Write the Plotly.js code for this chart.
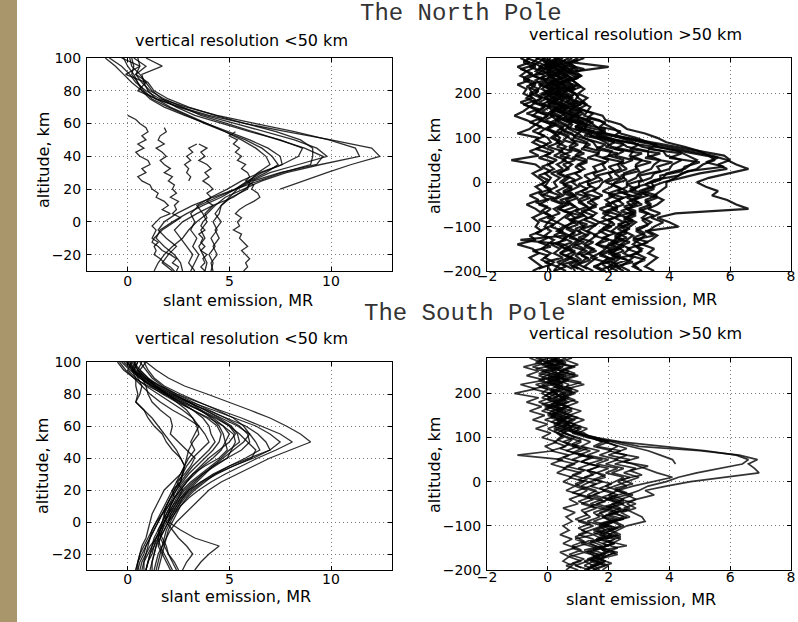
<!DOCTYPE html>
<html>
<head>
<meta charset="utf-8">
<script src="https://cdn.plot.ly/plotly-3.0.1.min.js"></script>
<style>html,body{margin:0;padding:0;background:#fff;}#chart{width:798px;height:622px;}</style>
</head>
<body>
<div id="chart"></div>
<script>
// ---------- altitude grids (km) ----------
const altL = [100,95,90,85,80,75,70,65,60,55,50,45,40,35,30,25,20,15,10,5,0,-5,-10,-15,-20,-25,-30];
const altZ = [65,62.5,60,57.5,55,52.5,50,47.5,45,42.5,40,37.5,35,32.5,30,27.5,25,22.5,20,17.5,15,12.5,10,7.5,5,2.5,0,-2.5,-5,-7.5,-10,-12.5,-15,-17.5,-20,-22.5,-25,-27.5,-30];
const altR = [280,270,260,250,240,230,220,210,200,190,180,170,160,150,140,130,120,110,100,90,80,70,60,50,40,30,20,10,0,-10,-20,-30,-40,-50,-60,-70,-80,-90,-100,-110,-120,-130,-140,-150,-160,-170,-180,-190,-200];
const altR2 = [275,265,255,245,235,225,215,205,195,185,175,165,155,145,135,125,115,105,95,85,75,65,55,45,35,25,15,5,-5,-15,-25,-35,-45,-55,-65,-75,-85,-95,-105,-115,-125,-135,-145,-155,-165,-175,-185,-195];

// ---------- tick labels ----------
const ticksLowX = [0,5,10];
const ticksLowY = [-20,0,20,40,60,80,100];
const ticksHiX = [-2,0,2,4,6,8];
const ticksHiY = [-200,-100,0,100,200];

// ---------- North Pole, vertical resolution < 50 km (slant emission, MR) ----------
const nLo1 = [-1.1,-0.6,-0.2,0.2,0.7,1.4,2.6,4.0,5.8,7.8,10.0,12.0,12.4,11.0,9.8,8.7,7.5,null,null,null,null,null,null,null,null,null,null];
const nLo2 = [-0.9,-0.3,0.1,0.4,0.9,1.6,2.9,4.4,6.3,8.2,9.9,11.2,11.4,9.5,7.8,6.6,5.7,4.8,4.3,3.9,3.4,3.0,2.7,2.2,1.8,1.5,1.3];
const nLo3 = [-0.3,0.6,-0.1,0.9,0.5,1.4,2.5,3.8,5.3,6.8,8.2,9.3,9.8,8.4,7.0,6.1,5.4,5.0,4.6,4.5,4.2,4.4,4.1,4.3,4.0,4.2,4.1];
const nLo4 = [0.5,0.6,0.4,0.7,1.1,1.8,2.7,3.6,4.9,6.2,7.5,8.7,9.6,9.3,7.5,6.2,5.8,5.2,4.2,3.4,2.7,2.3,2.6,2.9,3.2,3.0,3.3];
const nLo5 = [0.3,0.9,0.4,1.0,1.3,2.0,3.0,4.3,5.8,7.3,8.5,9.1,9.1,9.0,7.6,6.4,5.3,4.4,3.5,3.1,3.3,3.1,3.4,3.2,3.5,3.3,3.1];
const nLo6 = [0.2,0.3,0.2,0.5,0.7,1.1,1.8,2.8,3.9,5.0,6.0,6.9,7.5,7.6,6.6,5.9,5.3,4.6,3.7,2.9,2.2,1.6,1.4,1.8,2.3,2.6,2.7];
const nLo7 = [-0.2,0.0,0.3,0.5,0.8,1.2,2.0,2.9,3.8,4.8,5.8,6.6,7.1,7.4,6.8,6.0,5.3,4.2,3.2,2.4,1.8,1.5,1.9,2.4,2.0,1.7,2.2];
const nLo8 = [0.9,1.7,0.7,0.8,1.0,1.4,2.1,3.0,3.9,4.8,5.6,6.3,6.8,7.0,6.4,6.0,5.9,5.1,4.6,4.3,4.6,4.3,4.5,4.2,4.4,4.1,4.2];
const nLo9 = [0.1,0.2,0.6,0.9,1.2,1.7,2.4,3.3,4.6,6.0,7.5,8.6,8.4,7.6,6.5,5.6,4.9,4.1,3.4,3.7,3.9,3.6,3.8,3.5,3.7,3.9,3.8];
// zig-zag low-emission profiles (2.5 km grid)
const nZig1 = [0.0,0.4,0.6,0.9,1.0,0.7,0.9,0.5,0.8,0.4,0.6,1.0,1.1,0.7,0.9,0.5,0.7,1.1,1.2,1.5,1.4,1.8,2.0,1.7,2.1,1.6,1.4,1.2,1.4,1.3,1.2,1.5,1.3,1.4,1.3,1.6,1.8,2.1,2.3];
const nZig2 = [null,null,null,1.8,1.9,1.6,1.5,1.8,1.4,1.7,1.9,1.6,1.8,2.1,1.8,2.2,2.0,2.3,2.2,2.4,2.1,2.5,2.3,2.4,2.2,2.6,2.3,2.0,1.7,1.5,1.3,1.2,1.5,1.7,2.1,2.4,2.2,2.5,2.4];
const nZig3 = [null,null,null,null,null,null,null,3.4,3.0,3.2,2.9,3.1,2.8,3.0,2.9,3.1,3.0,null,null,null,null,null,null,null,null,null,null,null,null,null,null,null,null,null,null,null,null,null,null];
const nZig4 = [null,null,null,null,null,null,null,3.5,3.9,3.6,3.8,3.5,3.9,4.1,3.8,4.0,3.7,4.0,4.2,3.9,4.1,3.9,4.2,4.0,3.8,3.9,3.7,3.6,3.8,3.5,3.7,3.6,3.8,3.6,3.9,3.7,3.8,3.6,3.8];
const nZig5 = [null,null,null,null,5.3,5.0,5.4,5.2,5.5,5.3,5.6,5.4,5.8,5.6,5.9,6.0,5.8,6.2,6.1,6.4,6.5,6.2,5.8,5.5,5.3,5.6,5.4,5.5,5.2,5.6,5.5,5.7,5.9,5.6,5.8,6.0,5.8,5.9,5.7];

// ---------- North Pole, vertical resolution > 50 km ----------
const nHi1 = [-0.9,-0.6,-1.0,-0.7,-0.9,-0.6,-1.0,-0.7,-0.8, -0.5,-0.9,-0.6,-0.8,-1.1,-0.7,-0.4,-0.6,-1.0,-0.3, -0.5,-0.2,-0.6,-0.3,-1.2,-0.4,-0.2,-0.5,-0.3,-0.1, -0.4,-0.2,-0.6,-0.3,-0.7,-0.4,-0.2,-0.5,-0.3,-0.4, -0.2,-0.6,-0.4,-1.0,-0.5,-0.3,-0.6,-0.4,-0.2,-0.5];
const nHi2 = [-0.6,-0.8,-0.4,-0.7,-0.5,-0.8,-0.4,-0.6,-0.5, -0.7,-0.4,-0.6,-0.3,-0.5,-0.2,-0.4,-0.1,-0.3,0.0, 0.1,-0.2,0.2,-0.1,0.3,0.0,0.2,-0.1,0.1,0.0, -0.1,0.1,-0.2,0.0,-0.3,0.1,-0.1,0.2,0.0,-0.1, 0.1,-0.1,0.2,0.0,-0.2,0.1,-0.1,0.2,0.0,0.1];
const nHi3 = [-0.3,-0.5,-0.2,-0.4,-0.1,-0.4,-0.2,-0.3,-0.4, -0.2,-0.4,-0.1,-0.3,0.0,-0.2,0.1,0.0,0.2,0.4, 0.3,0.6,0.4,0.7,0.5,0.8,0.6,0.4,0.7,0.5, 0.6,0.3,0.5,0.2,0.6,0.4,0.7,0.5,0.3,0.6, 0.4,0.7,0.5,0.3,0.6,0.4,0.8,0.5,0.3,0.6];
const nHi4 = [-0.1,-0.3,0.0,-0.2,0.1,-0.1,0.0,-0.2,0.1, -0.1,0.1,0.0,0.2,0.1,0.3,0.2,0.5,0.4,0.7, 0.9,0.7,1.1,0.9,1.3,1.0,1.2,0.9,1.1,0.8, 1.0,0.7,0.9,0.6,0.8,1.0,0.7,0.9,0.8,0.6, 0.9,0.7,1.0,0.8,0.6,0.9,0.7,1.0,0.8,0.9];
const nHi5 = [0.1,-0.1,0.2,0.0,0.1,0.3,0.0,0.2,-0.1, 0.2,0.0,0.3,0.1,0.4,0.3,0.6,0.4,0.8,0.9, 1.3,1.2,1.7,1.6,2.0,1.8,1.9,1.5,1.6,1.3, 1.4,1.1,1.3,1.0,1.2,1.4,1.1,1.3,1.0,1.2, 1.0,1.3,1.1,0.9,1.2,1.0,1.3,1.1,0.9,1.2];
const nHi6 = [0.3,0.0,0.2,0.4,0.1,0.3,0.1,0.4,0.2, 0.4,0.2,0.5,0.3,0.6,0.5,0.8,0.7,1.0,1.2, 1.5,1.6,2.1,2.0,2.5,2.3,2.4,2.0,2.1,1.8, 1.7,1.5,1.8,1.4,1.6,1.3,1.6,1.4,1.7,1.5, 1.3,1.6,1.4,1.2,1.5,1.3,1.6,1.4,1.2,1.5];
const nHi7 = [0.5,0.2,0.4,0.6,0.3,0.5,0.2,0.5,0.3, 0.6,0.4,0.7,0.5,0.8,0.7,1.1,0.9,1.3,1.6, 1.9,2.1,2.8,2.7,3.1,2.9,2.9,2.5,2.5,2.2, 2.1,1.8,2.2,1.9,2.1,1.7,2.0,1.8,2.1,1.9, 1.7,2.0,1.8,1.6,1.9,1.7,2.0,1.8,1.6,1.9];
const nHi8 = [0.7,0.4,0.6,0.8,0.5,0.7,0.4,0.7,0.5, 0.8,0.6,0.9,0.7,1.0,1.0,1.3,1.2,1.6,2.0, 2.4,2.6,3.3,3.3,3.7,3.5,3.4,3.0,2.9,2.6, 2.6,2.3,2.7,2.3,2.5,2.1,2.4,2.2,2.5,2.3, 2.1,2.4,2.2,2.0,2.3,2.1,2.4,2.2,2.0,2.3];
const nHi9 = [0.8,0.6,0.9,0.7,1.0,0.6,0.8,0.6,0.9, 0.7,1.0,0.8,1.1,0.9,1.3,1.5,1.7,1.9,2.4, 2.8,3.1,3.8,3.9,4.4,4.1,4.0,3.5,3.4,3.0, 3.0,2.7,3.1,2.7,2.9,2.6,2.8,2.6,2.9,2.7, 2.5,2.8,2.6,2.4,2.7,2.5,2.8,2.6,2.4,2.7];
const nHi10 = [1.0,0.7,0.9,0.6,1.1,0.8,1.0,0.7,0.9, 1.0,1.2,0.9,1.3,1.2,1.7,1.9,2.2,2.4,2.9, 3.3,3.6,4.3,4.6,4.9,4.7,4.5,3.9,3.8,3.4, 3.5,3.1,3.6,3.2,3.4,3.0,3.3,3.1,3.4,3.2, 2.9,3.2,3.0,2.8,3.1,2.9,3.2,3.0,2.8,3.1];
const nHi11 = [1.2,0.8,2.0,0.9,1.1,0.8,1.0,1.2,1.0, 1.3,1.1,1.4,1.3,1.8,1.9,2.4,2.6,3.2,3.6, 3.9,4.5,5.0,5.3,5.5,5.1,4.9,4.4,4.2,3.9, 3.9,3.7,3.5,3.8,3.6,3.3,3.7,3.4,3.8,3.5, 3.3,3.6,3.4,3.1,3.5,3.3,3.6,3.4,3.2,3.5];
const nHi12 = [0.4,0.1,0.6,0.3,0.7,0.2,0.5,0.9,0.3, 0.7,0.9,0.5,1.1,0.8,1.4,1.2,1.9,1.6,2.5, 3.1,3.9,4.6,5.4,5.9,6.2,6.6,6.0,5.3,4.9, 5.2,5.6,5.4,5.9,6.2,6.6,4.2,3.6,4.0,4.3, 3.2,3.5,2.8,3.1,2.6,3.0,2.4,2.8,2.2,2.5];
const nHi13 = [-0.2,0.3,-0.1,0.4,0.0,0.3,-0.2,0.2,0.0, 0.3,0.1,0.5,0.3,0.9,0.6,1.3,1.0,1.9,2.6, 3.4,4.3,5.0,5.8,6.0,5.6,5.9,5.0,4.4,3.8, 3.4,3.0,3.3,2.8,3.1,2.6,2.9,2.5,2.8,2.4, 2.6,2.2,2.5,2.1,2.4,2.0,2.3,1.9,2.2,2.0];
const nHi14 = [-0.4,0.1,-0.3,0.2,-0.5,0.0,-0.3,0.1,-0.2, 0.0,-0.3,0.1,-0.2,0.2,-0.1,0.3,0.0,0.4,0.2, 0.5,0.3,0.8,0.4,0.9,0.5,0.7,0.3,0.6,0.4, 0.8,0.5,0.9,0.4,0.7,0.3,0.8,0.6,0.9,0.5, 0.3,0.6,-0.9,0.5,0.8,0.4,0.7,0.3,0.6,0.2];
const nHi15 = [0.2,0.6,0.1,0.5,0.2,0.7,0.3,0.6,0.2, 0.5,0.1,0.6,0.4,0.9,0.6,1.2,1.0,1.5,1.8, 2.2,1.9,2.5,2.2,2.8,2.4,2.6,2.2,2.4,1.9, 2.3,2.6,2.0,2.4,1.9,2.3,1.8,2.2,1.7,2.1, 1.8,1.5,2.0,1.6,2.2,1.7,1.4,1.9,1.5,1.8];
const nHi16 = [-0.7,-0.3,-0.6,-0.2,-0.5,-0.1,-0.6,-0.3,-0.6, -0.2,-0.5,-0.1,-0.4,0.0,-0.3,0.2,-0.1,0.3,0.1, 0.4,0.0,0.5,0.2,0.6,0.3,0.5,0.1,0.4,0.2, 0.3,0.0,0.4,0.1,0.5,0.2,0.4,0.0,0.3,0.1, 0.5,0.2,0.6,0.1,0.4,0.2,0.5,-0.1,0.3,0.2];
// (interleaved 5-km offset grid)
const nHi17 = [-0.8,-0.4,-0.9,-0.5,-0.8,-0.4,-0.7,-0.3,-0.6, -0.4,-0.8,-0.3,-0.7,-0.2,-0.6,-0.2,-0.5,-0.1,-0.4, 0.0,-0.4,0.1,-0.3,0.2,-0.2,0.1,-0.3,0.0,-0.2, 0.1,-0.3,0.2,-0.4,0.0,-0.2,0.1,-0.3,0.2,-0.1, -0.4,0.0,-0.3,0.1,-0.5,0.0,-0.2,0.1,-0.3];
const nHi18 = [-0.2,0.2,-0.3,0.1,-0.2,0.3,-0.1,0.2,-0.3, 0.1,-0.2,0.3,0.0,0.4,0.1,0.5,0.3,0.7,0.5, 1.0,0.7,1.2,0.8,1.3,0.9,1.1,0.6,0.9,0.5, 0.8,0.5,1.0,0.6,0.9,0.5,1.1,0.7,1.0,0.6, 0.9,0.5,0.8,0.4,0.9,0.6,1.0,0.5,0.8];
const nHi19 = [0.3,-0.1,0.4,0.0,0.5,0.1,0.4,-0.1,0.3, 0.0,0.5,0.2,0.6,0.3,0.8,0.6,1.1,0.9,1.4, 1.9,1.6,2.3,1.8,2.5,2.0,2.2,1.6,1.8,1.3, 1.6,1.2,1.7,1.3,1.6,1.1,1.5,1.2,1.6,1.1, 1.4,1.0,1.5,1.2,1.6,1.1,1.4,1.0,1.3];
const nHi20 = [0.6,0.2,0.7,0.3,0.8,0.4,0.6,0.2,0.7, 0.4,0.9,0.5,1.0,0.6,1.2,0.9,1.5,1.2,1.9, 2.5,2.2,3.1,2.7,3.4,2.9,3.0,2.4,2.6,2.1, 2.4,2.0,2.5,2.1,2.3,1.9,2.4,2.0,2.2,1.8, 2.2,1.8,2.3,1.9,2.1,1.7,2.2,1.8,2.0];
const nHi21 = [0.9,0.5,1.0,0.5,0.8,0.4,0.9,0.5,0.8, 0.6,1.1,0.7,1.2,0.8,1.5,1.2,1.9,1.6,2.3, 3.0,2.7,3.7,3.2,4.1,3.6,3.7,3.0,3.1,2.6, 2.9,2.5,3.0,2.6,2.8,2.4,2.9,2.5,2.7,2.3, 2.6,2.2,2.7,2.3,2.5,2.1,2.6,2.2,2.4];
const nHi22 = [1.0,0.6,1.2,0.7,1.0,0.6,1.1,0.7,1.0, 0.9,1.3,1.0,1.5,1.3,1.9,1.7,2.4,2.2,2.9, 3.6,3.3,4.4,4.0,5.0,4.5,4.4,3.7,3.7,3.2, 3.5,3.1,3.6,3.2,3.4,3.0,3.5,3.1,3.3,2.9, 3.2,2.8,3.3,2.9,3.1,2.7,3.2,2.8,3.0];
const nHi23 = [0.0,0.4,-0.1,0.3,0.0,0.5,0.1,0.4,0.0, 0.3,0.0,0.4,0.1,0.5,0.3,0.7,0.5,0.9,0.8, 1.4,1.1,1.7,1.3,1.9,1.5,1.6,1.2,1.4,1.0, 1.3,0.9,1.4,1.0,1.3,0.9,1.2,0.8,1.3,0.9, 1.1,0.7,1.2,0.8,1.3,0.9,1.1,0.7,1.0];
const nHi24 = [0.5,0.1,0.6,0.2,0.5,0.0,0.4,0.1,0.5, 0.2,0.6,0.3,0.8,0.5,1.1,0.9,1.5,1.4,2.2, 3.0,4.0,4.8,5.6,5.2,5.8,4.6,4.3,3.5,3.2, 2.7,3.1,2.6,3.0,2.5,2.9,2.4,2.8,2.3,2.7, 2.3,2.6,2.1,2.5,2.0,2.4,1.9,2.3,1.8];

// ---------- South Pole, vertical resolution < 50 km ----------
const sLo1 = [0.9,1.4,2.0,2.8,3.9,5.0,6.0,7.0,7.8,8.5,9.0,8.0,7.0,6.2,5.4,4.6,4.0,3.6,3.2,2.8,2.4,2.1,1.9,1.7,1.5,1.4,1.3];
const sLo2 = [0.2,0.5,0.9,1.6,2.4,3.4,4.5,5.6,6.6,7.5,8.1,7.3,6.4,5.6,4.8,4.1,3.5,3.0,2.6,2.3,2.0,1.8,1.6,1.4,1.3,1.2,1.1];
const sLo3 = [0.0,0.3,0.8,1.4,2.2,3.1,4.2,5.3,6.3,7.0,7.5,7.0,6.0,5.0,4.3,3.8,3.3,2.9,2.6,2.4,2.2,2.0,1.9,1.8,1.7,1.6,1.5];
const sLo4 = [-0.3,0.1,0.6,1.2,2.0,2.9,3.9,4.9,5.8,6.4,6.8,7.0,6.2,5.2,4.4,3.7,3.2,2.8,2.5,2.2,1.9,1.7,1.5,1.3,1.2,1.0,0.9];
const sLo5 = [0.4,0.2,0.7,1.3,2.1,3.0,3.8,4.6,5.4,6.0,6.3,6.5,5.8,5.0,4.2,3.6,3.1,2.7,2.4,2.1,1.8,1.6,1.4,1.2,1.1,1.0,0.9];
const sLo6 = [-0.5,-0.2,0.3,1.0,1.8,2.6,3.5,4.3,5.0,5.5,5.9,6.3,6.1,5.2,4.3,3.6,3.0,2.6,2.3,2.0,1.8,1.6,1.5,1.4,1.3,1.2,1.2];
const sLo7 = [0.6,0.9,1.2,1.7,2.4,3.2,4.0,4.8,5.5,5.9,6.0,5.6,4.9,4.2,3.7,3.3,2.9,2.6,2.4,2.2,2.0,1.8,1.6,1.5,1.7,1.9,2.1];
const sLo8 = [0.1,0.4,0.9,1.5,2.2,3.0,3.8,4.5,5.1,5.4,5.5,5.0,4.6,4.1,3.6,3.1,2.7,2.4,2.2,2.0,1.8,1.6,1.4,1.3,1.1,1.0,0.9];
const sLo9 = [-0.2,0.2,0.6,1.2,1.9,2.7,3.6,4.4,5.0,5.3,5.0,4.5,4.0,3.6,3.2,2.9,2.6,2.3,2.1,1.9,1.7,1.5,1.3,1.2,1.0,0.8,0.7];
const sLo10 = [0.5,0.3,0.8,1.4,2.0,2.8,3.5,4.2,4.7,5.0,4.8,4.9,4.5,3.8,3.2,2.8,2.5,2.3,2.1,1.9,1.7,1.5,1.7,1.9,2.0,2.2,2.4];
const sLo11 = [0.3,0.6,1.0,1.6,2.3,3.0,3.6,4.1,4.5,4.7,4.8,4.6,4.2,3.7,3.3,2.9,2.6,2.3,2.0,1.7,1.4,1.2,1.0,0.8,0.6,0.5,0.5];
const sLo12 = [-0.1,0.3,0.7,1.2,1.8,2.5,3.2,3.9,4.4,4.6,4.5,4.2,3.8,3.4,3.0,2.7,2.4,2.2,2.0,1.8,1.7,1.6,1.5,1.6,1.8,2.0,2.2];
const sLo13 = [0.7,0.5,0.9,1.3,1.9,2.6,3.2,3.7,4.0,4.1,4.3,4.0,3.6,3.2,2.9,2.6,2.3,2.1,1.9,1.8,1.9,2.2,2.5,2.9,3.2,2.9,2.7];
const sLo14 = [0.2,0.0,0.4,0.9,1.5,2.1,2.7,3.2,3.5,3.3,3.1,3.3,3.0,2.8,2.6,2.4,2.2,2.0,1.8,1.6,1.4,1.2,1.1,1.0,0.9,0.8,0.8];
const sLo15 = [0.9,0.6,1.0,1.4,1.9,2.4,2.9,3.2,3.4,3.5,3.2,3.0,2.9,2.8,2.7,2.5,2.3,2.1,1.9,1.7,1.5,1.3,1.1,0.9,0.7,0.5,0.4];
const sLo16 = [0.0,0.2,0.4,0.4,0.5,0.4,0.8,1.2,1.5,1.8,2.1,2.4,2.6,2.8,2.7,2.6,2.2,2.3,2.1,2.0,1.8,1.6,1.4,1.1,0.9,0.7,0.6];
const sLo17 = [0.3,0.5,0.7,0.9,1.0,1.2,1.6,2.1,2.2,2.1,2.5,2.9,3.3,3.1,2.8,2.4,2.7,2.5,2.3,2.1,2.0,2.6,3.3,4.5,4.0,3.6,3.3];
const sLo18 = [-0.4,-0.1,0.3,0.7,1.1,1.6,2.2,2.9,3.5,3.8,4.0,3.6,3.2,2.9,2.7,2.6,2.4,2.1,1.9,1.7,1.5,1.3,1.1,0.9,0.8,0.6,0.5];
const sLo19 = [0.8,1.0,1.3,1.8,2.6,3.5,4.4,5.2,5.7,6.0,5.7,5.2,4.7,4.2,3.8,3.4,3.0,2.7,2.5,2.3,2.1,1.9,1.8,1.7,1.6,1.5,1.4];
const sLo20 = [0.1,0.3,0.6,1.1,1.7,2.4,3.2,4.0,4.7,5.2,5.3,5.1,4.9,4.3,3.7,3.2,2.8,2.5,2.2,2.0,1.8,1.7,1.6,1.8,2.0,2.3,2.5];
const sLo21 = [0.5,0.3,0.5,0.7,0.6,0.4,0.8,1.0,1.3,1.7,1.9,2.2,2.6,2.8,2.6,2.2,1.8,1.6,1.4,1.2,1.1,1.0,0.9,0.7,0.6,0.5,0.4];

// ---------- South Pole, vertical resolution > 50 km ----------
const sHi1 = [0.3,-0.1,0.4,0.1,0.5,0.0,0.3,0.6,0.2, 0.5,0.2,0.6,0.3,0.7,0.4,0.9,0.6,1.0,1.3, 2.3,3.0,5.0,6.3,6.9,6.6,6.8,6.95,5.9,4.7, 3.9,3.2,3.5,2.9,2.6,2.9,2.4,2.7,2.2,2.5, 2.1,2.4,1.9,2.2,1.7,2.0,1.6,1.9,1.5,1.7];
const sHi2 = [0.0,0.4,0.1,0.5,0.2,0.6,0.1,0.4,0.0, 0.3,0.6,0.2,0.5,0.1,0.4,0.7,0.5,0.9,1.6, 2.4,3.8,5.2,6.2,6.6,6.4,5.6,4.9,4.3,3.9, 3.3,3.0,2.6,2.9,2.4,2.7,2.2,2.5,2.1,2.4, 2.0,2.3,1.8,2.1,1.7,1.9,1.5,1.8,1.4,1.6];
const sHi3 = [-0.3,0.2,-0.1,0.3,0.0,0.4,-0.2,0.1,0.3, 0.0,0.4,0.2,0.6,0.3,0.8,0.5,1.0,0.9,1.5, 2.1,2.8,3.3,3.7,4.1,4.2,null,null,null,null, null,null,null,null,null,null,null,null,null,null, null,null,null,null,null,null,null,null,null,null];
const sHi4 = [0.6,0.2,0.8,0.4,0.9,0.3,0.7,0.5,0.8, 0.4,0.7,0.3,0.8,0.5,0.9,0.6,1.1,0.8,1.3, 1.9,2.3,2.0,2.6,2.2,2.8,3.2,3.6,4.1,3.4, 2.8,2.3,2.6,2.0,2.4,1.9,2.2,1.8,2.1,1.7, 1.9,1.5,1.8,1.4,1.7,1.3,1.6,1.2,1.5,1.3];
const sHi5 = [0.1,0.5,0.2,0.7,0.3,0.6,0.2,0.5,0.1, 0.6,0.3,0.7,0.4,0.8,0.5,0.9,0.7,1.2,1.4, 1.8,1.5,2.1,1.7,2.3,1.9,2.5,2.1,2.7,2.3, 2.6,2.2,2.8,2.4,2.9,2.5,2.8,3.1,3.2,2.6, 2.3,2.0,2.4,2.1,1.8,2.2,1.9,1.6,2.0,1.8];
const sHi6 = [-0.6,-0.2,-0.8,-0.3,-0.7,-0.1,-0.9,-0.4,-1.1, -0.3,-0.7,-0.2,-0.6,-0.1,-0.5,0.0,-0.4,0.1,-0.2, 0.3,-0.1,0.2,-1.0,0.5,0.1,0.6,0.3,0.8,0.5, 0.9,0.6,1.1,0.7,1.0,0.5,0.9,0.6,0.8,0.5, 0.7,0.4,0.8,0.5,0.9,0.4,0.7,0.5,0.8,0.6];
const sHi7 = [0.2,0.6,0.0,0.5,0.1,0.7,0.3,0.8,0.4, 0.7,0.2,0.6,0.1,0.5,0.3,0.7,0.2,0.6,0.9, 0.5,1.0,0.6,1.2,0.8,1.4,1.0,1.6,1.2,1.8, 1.4,1.9,1.5,2.0,1.6,2.1,1.7,1.9,1.5,2.0, 1.6,2.1,1.7,1.3,1.8,1.4,1.9,1.5,1.2,1.6];
const sHi8 = [-0.4,0.0,-0.5,0.1,-0.3,0.2,-0.4,0.0,-0.2, 0.1,-0.3,0.2,-0.2,0.3,-0.1,0.4,0.0,0.3,0.5, 0.2,0.6,0.1,0.7,0.3,0.9,0.5,1.1,0.7,1.2, 0.9,1.3,1.0,1.5,1.1,1.6,1.2,1.4,1.0,1.5, 1.1,1.5,0.9,1.3,0.8,1.2,0.7,1.1,0.6,1.0];
const sHi9 = [0.8,0.3,0.9,0.4,1.0,0.5,1.2,0.6,0.9, 0.5,1.0,0.6,1.1,0.7,1.2,0.8,1.3,1.0,1.6, 2.0,1.6,2.4,2.0,2.7,2.2,2.9,2.5,3.0,2.6, 2.2,1.8,2.3,1.9,2.5,2.0,2.3,1.8,2.2,1.9, 1.5,1.9,1.6,2.2,1.7,2.3,1.8,1.4,1.9,1.5];
const sHi10 = [0.0,-0.4,0.3,-0.2,0.4,-0.3,0.2,-0.5,0.1, -0.2,0.3,-0.1,0.4,0.0,0.5,0.2,0.6,0.3,0.7, 1.1,0.8,1.4,1.0,1.8,1.3,2.0,1.6,1.9,1.4, 1.1,1.6,1.3,1.8,1.4,1.9,1.5,1.7,1.3,1.8, 1.4,1.0,1.5,1.1,1.6,1.2,1.7,1.3,0.9,1.4];
const sHi11 = [0.4,0.0,0.5,0.1,0.6,0.2,0.5,0.1,0.6, 0.2,0.5,0.0,0.4,0.1,0.6,0.3,0.8,0.5,1.0, 1.4,1.1,1.7,1.3,2.0,1.6,2.3,1.9,2.5,2.2, 1.9,2.3,2.0,2.5,2.1,2.4,2.0,2.6,2.2,1.8, 2.1,1.7,2.2,1.8,2.3,1.9,1.5,1.9,1.6,1.2];
// (interleaved 5-km offset grid)
const sHi12 = [0.1,0.6,0.2,0.7,0.0,0.5,0.2,0.8,0.3, 0.6,0.1,0.5,0.2,0.7,0.3,0.8,0.4,0.7,1.1, 0.8,1.3,0.9,1.5,1.1,1.7,1.3,1.9,1.5,2.1, 1.7,2.2,1.8,2.4,2.0,2.6,1.9,2.3,1.8,2.2, 1.7,2.1,1.6,2.0,1.5,1.9,1.4,1.8,1.3];
const sHi13 = [-0.3,0.2,-0.4,0.1,-0.2,0.3,-0.3,0.2,-0.1, 0.3,-0.2,0.4,0.0,0.5,0.1,0.6,0.2,0.5,0.3, 0.7,0.4,0.9,0.5,1.0,0.6,1.2,0.8,1.3,0.9, 1.2,0.8,1.4,1.0,1.5,1.1,1.3,0.9,1.4,1.0, 1.3,0.9,1.2,0.8,1.1,0.7,1.2,0.8,1.1];
const sHi14 = [0.6,1.0,0.5,0.9,0.4,1.1,0.6,1.0,0.5, 0.9,0.4,0.8,0.5,1.0,0.6,1.1,0.7,1.3,1.6, 2.1,2.6,2.2,3.0,2.5,3.3,2.7,3.1,2.4,2.8, 2.2,2.6,2.0,2.5,1.9,2.4,2.0,2.5,1.8,2.3, 1.9,2.4,2.0,2.6,1.8,2.3,1.7,2.1,1.6];
const sHi15 = [0.3,-0.2,0.2,-0.3,0.4,0.0,0.5,0.1,0.4, 0.0,0.4,-0.1,0.3,0.1,0.5,0.2,0.6,0.4,0.8, 0.6,1.1,0.8,1.4,1.1,1.7,1.3,1.5,1.0,1.6, 1.2,1.7,1.3,1.9,1.4,2.0,1.6,2.2,1.7,2.1, 1.5,1.9,1.4,1.8,1.2,1.7,1.3,1.8,1.4];

// ---------- build traces ----------
const traces = [];
function addSet(list, alt, xa, ya, line) {
  list.forEach(v => traces.push({type:'scatter', mode:'lines', x:v, y:alt, xaxis:xa, yaxis:ya,
    line:line, connectgaps:false, hoverinfo:'skip', showlegend:false}));
}
const loLine = {color:'rgba(0,0,0,0.82)', width:1.3};
const hiLineN = {color:'rgba(0,0,0,0.88)', width:2.2};
const hiLineS = {color:'rgba(0,0,0,0.8)', width:1.7};
addSet([nLo1,nLo2,nLo3,nLo4,nLo5,nLo6,nLo7,nLo8,nLo9], altL, 'x', 'y', loLine);
addSet([nZig1,nZig2,nZig3,nZig4,nZig5], altZ, 'x', 'y', loLine);
addSet([nHi1,nHi2,nHi3,nHi4,nHi5,nHi6,nHi7,nHi8,nHi9,nHi10,nHi11,nHi12,nHi13,nHi14,nHi15,nHi16], altR, 'x2', 'y2', hiLineN);
addSet([nHi17,nHi18,nHi19,nHi20,nHi21,nHi22,nHi23,nHi24], altR2, 'x2', 'y2', hiLineN);
addSet([sLo1,sLo2,sLo3,sLo4,sLo5,sLo6,sLo7,sLo8,sLo9,sLo10,sLo11,sLo12,sLo13,sLo14,sLo15,sLo16,sLo17,sLo18,sLo19,sLo20,sLo21], altL, 'x3', 'y3', loLine);
addSet([sHi1,sHi2,sHi3,sHi4,sHi5,sHi6,sHi7,sHi8,sHi9,sHi10,sHi11], altR, 'x4', 'y4', hiLineS);
addSet([sHi12,sHi13,sHi14,sHi15], altR2, 'x4', 'y4', hiLineS);

// ---------- layout ----------
const W = 798, H = 622;
const px = v => v / W;           // pixel -> paper x
const py = v => 1 - v / H;       // pixel -> paper y
function ax(range, tickvals, d0, d1, anchor, isY, standoff) {
  return {
    range: range, domain: isY ? [py(d1), py(d0)] : [px(d0), px(d1)], anchor: anchor,
    tickmode: 'array', tickvals: tickvals, ticks: 'inside', ticklen: 4, tickcolor: '#000',
    showline: true, linecolor: '#000', linewidth: 1, mirror: 'ticks',
    showgrid: true, gridcolor: '#7a7a7a', griddash: '1px,3px', gridwidth: 1, zeroline: false,
    tickfont: {family: 'DejaVu Sans', size: 14, color: '#000'}, fixedrange: true,
    ticklabelstandoff: standoff
  };
}
const lab = (text, x, y, size, angle, family, color) => ({
  text: text, x: px(x), y: py(y), xref: 'paper', yref: 'paper', showarrow: false,
  xanchor: 'center', yanchor: 'middle', textangle: angle || 0,
  font: {family: family || 'DejaVu Sans', size: size, color: color || '#000'}
});

const layout = {
  width: W, height: H, margin: {l: 0, r: 0, t: 0, b: 0},
  paper_bgcolor: '#ffffff', plot_bgcolor: '#ffffff', showlegend: false,
  xaxis:  ax([-2, 13], ticksLowX, 87, 392, 'y', false, -3),
  yaxis:  ax([-30, 100], ticksLowY, 58, 271, 'x', true, 2),
  xaxis2: ax([-2, 8], ticksHiX, 487, 791, 'y2', false, -8),
  yaxis2: ax([-200, 280], ticksHiY, 58, 271, 'x2', true, 2),
  xaxis3: ax([-2, 13], ticksLowX, 87, 392, 'y3', false, -4),
  yaxis3: ax([-30, 100], ticksLowY, 362, 570, 'x3', true, 2),
  xaxis4: ax([-2, 8], ticksHiX, 487, 791, 'y4', false, -6),
  yaxis4: ax([-200, 280], ticksHiY, 358, 570, 'x4', true, 2),
  shapes: [
    {type: 'rect', xref: 'paper', yref: 'paper', x0: 0, x1: px(17), y0: 0, y1: 1,
     fillcolor: '#a9966b', line: {width: 0}, layer: 'below'}
  ],
  annotations: [
    lab('The North Pole', 461, 13, 24, 0, 'Liberation Mono', '#333'),
    lab('The South Pole', 465, 313, 24, 0, 'Liberation Mono', '#333'),
    lab('vertical resolution <50 km', 241, 40, 16),
    lab('vertical resolution >50 km', 635, 35, 16),
    lab('vertical resolution <50 km', 241, 338, 16),
    lab('vertical resolution >50 km', 635, 333, 16),
    lab('slant emission, MR', 238, 300, 16),
    lab('slant emission, MR', 642, 299, 16),
    lab('slant emission, MR', 236, 596, 16),
    lab('slant emission, MR', 641, 599, 16),
    lab('altitude, km', 43, 160, 16, -90),
    lab('altitude, km', 434, 166, 16, -90),
    lab('altitude, km', 43, 466, 16, -90),
    lab('altitude, km', 434, 465, 16, -90)
  ]
};

Plotly.newPlot('chart', traces, layout, {staticPlot: true, displayModeBar: false});
</script>
</body>
</html>
